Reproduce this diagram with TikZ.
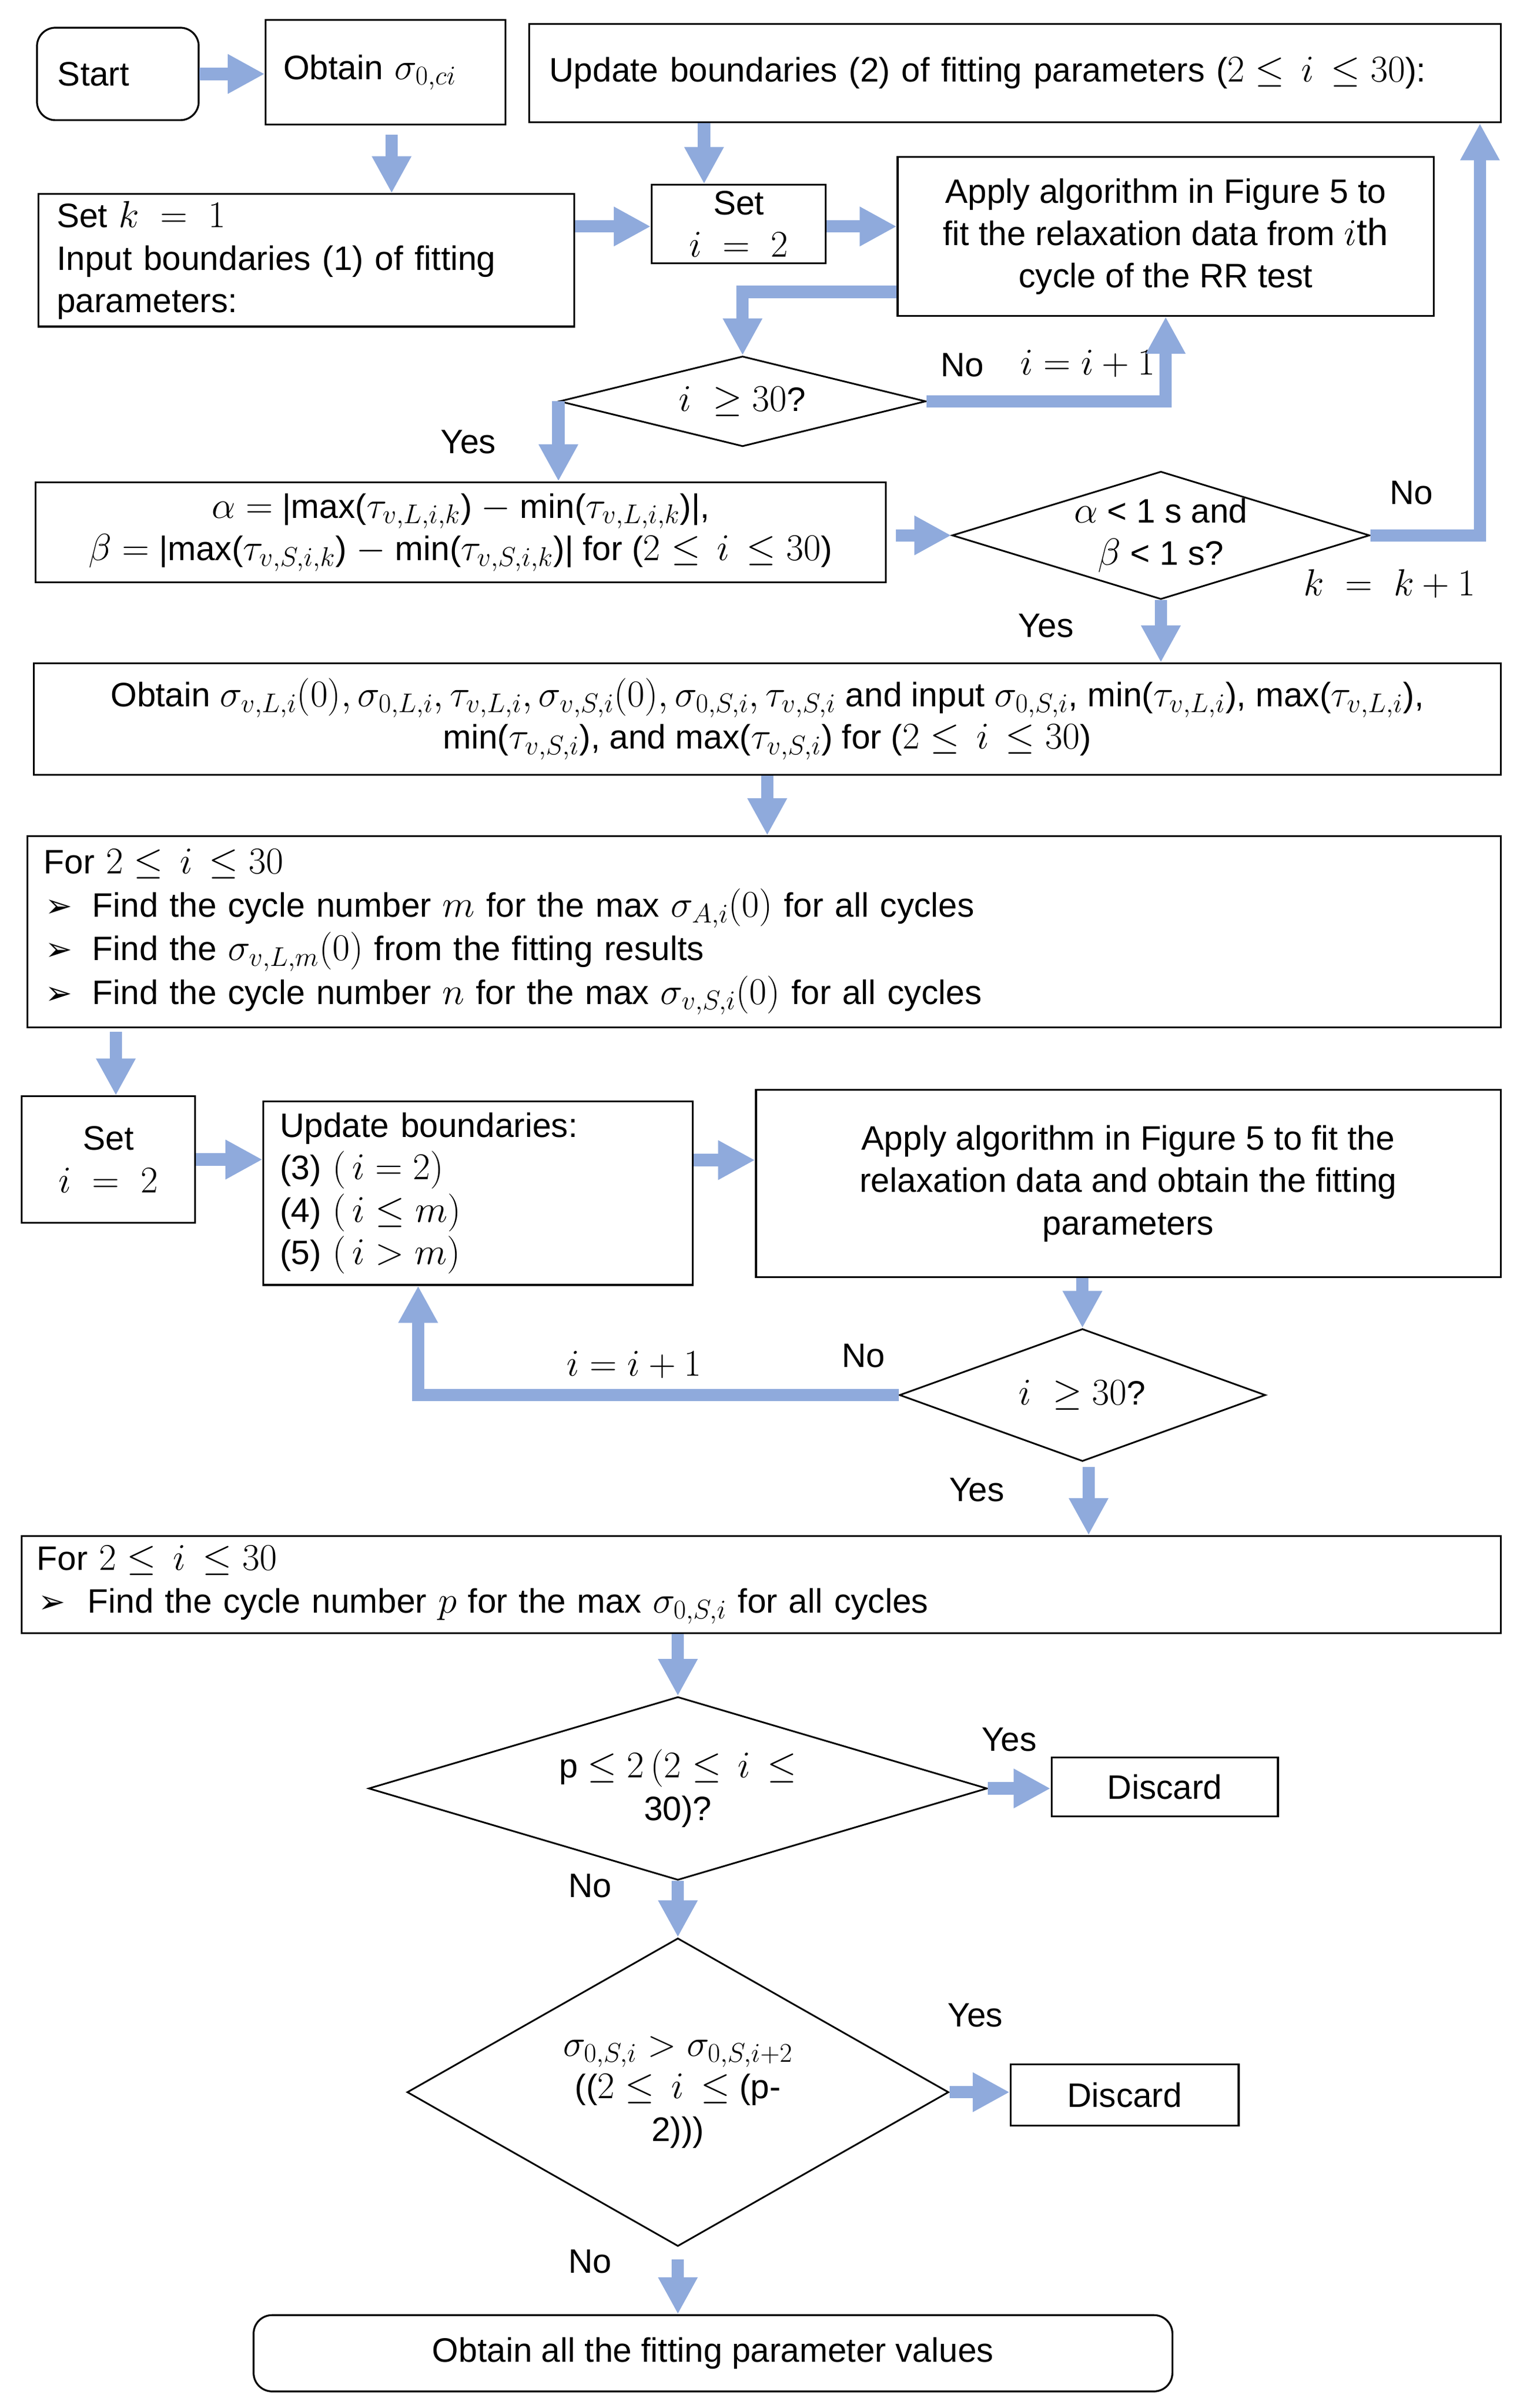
\RequirePackage{fix-cm}
\documentclass[tikz,border=0pt]{standalone}
\usepackage{fontspec}
\setmainfont{Liberation Sans}
\newfontfamily\djv{DejaVu Sans}
\usetikzlibrary{arrows.meta,shapes.geometric,calc}
\DeclareMathSizes{22}{24.5}{17.5}{13}
\definecolor{arrblue}{RGB}{143,170,220}
\newcommand{\bul}[1]{\makebox[#1][l]{\hspace{1pt}{\djv\fontsize{21}{21}\selectfont ➢}}}
\tikzset{
  txt/.style={font=\fontsize{22}{27.5}\selectfont},
  box/.style={txt, draw, line width=1.2pt, rectangle, inner sep=0pt},
  rbox/.style={box, rounded corners=12pt},
  dia/.style={draw, diamond, line width=1.1pt, inner sep=0pt},
  lbl/.style={txt, inner sep=0pt},
  arr/.style={draw=arrblue, line width=8pt, -{Triangle[length=24pt,width=24pt]}},
}
\begin{document}
\begin{tikzpicture}[x=1pt,y=-1pt]
\useasboundingbox (0,0) rectangle (993,1563);

% ---- nodes ----
\node[rbox, minimum width=105, minimum height=60, text width=78, align=left] (start) at (76.5,48) {Start};
\node[box, minimum width=155.5, minimum height=68, text width=132.5, align=left] (obt0) at (250.2,47) {Obtain $\sigma_{0,ci}$};
\node[box, minimum width=630.4, minimum height=64, text width=604.4, align=left] (upd2) at (658.8,47.5) {Update boundaries (2) of fitting parameters ($2\leq\, i\, \leq 30$):};
\node[box, minimum width=348, minimum height=86, text width=324, align=left] (setk) at (198.85,169) {Set $k\;=\;1$\\Input boundaries (1) of fitting\\parameters:};
\node[box, minimum width=113, minimum height=51, align=center] (seti) at (479.5,145.5) {Set\\$i\;=\;2$};
\node[box, minimum width=348, minimum height=103, align=center] (app1) at (756.65,153.5) {Apply algorithm in Figure 5 to\\fit the relaxation data from $i\mathrm{th}$\\cycle of the RR test};
\node[dia, minimum width=238, minimum height=58.6] (d1) at (482,260.5) {};
\node[lbl] (d1t) at (d1) {$i\;\geq 30$?};
\node[box, minimum width=552, minimum height=65, align=center] (alpha) at (299,345.5) {$\alpha =$ |max($\tau_{v,L,i,k}$) $-$ min($\tau_{v,L,i,k}$)|,\\$\beta =$ |max($\tau_{v,S,i,k}$) $-$ min($\tau_{v,S,i,k}$)| for ($2\leq\, i\,\leq 30$)};
\node[dia, minimum width=271, minimum height=83] (d2) at (753.5,347.5) {};
\node[lbl, align=center] (d2t) at (d2) {$\alpha$ < 1 s and\\$\beta$ < 1 s?};
\node[box, minimum width=952, minimum height=72.4, align=center] (obt) at (498,466.8) {Obtain $\sigma_{v,L,i}(0), \sigma_{0,L,i}, \tau_{v,L,i}, \sigma_{v,S,i}(0), \sigma_{0,S,i}, \tau_{v,S,i}$ and input $\sigma_{0,S,i}$, min($\tau_{v,L,i}$), max($\tau_{v,L,i}$),\\min($\tau_{v,S,i}$), and max($\tau_{v,S,i}$) for ($2\leq\, i\,\leq 30$)};
\node[box, font=\fontsize{22}{28.2}\selectfont, minimum width=956.2, minimum height=124.2, text width=935, align=left] (for1) at (495.9,604.9) {For $2\leq\, i\,\leq 30$\\\bul{31.5pt}Find the cycle number $m$ for the max $\sigma_{A,i}(0)$ for all cycles\\\bul{31.5pt}Find the $\sigma_{v,L,m}(0)$ from the fitting results\\\bul{31.5pt}Find the cycle number $n$ for the max $\sigma_{v,S,i}(0)$ for all cycles};
\node[box, minimum width=112.7, minimum height=82, align=center] (seti2) at (70.35,752.65) {Set\\$i\;=\;2$};
\node[box, minimum width=278.5, minimum height=119, text width=257, align=left] (updb) at (310.25,774.5) {Update boundaries:\\(3) $(\,i=2)$\\(4) $(\,i\leq m)$\\(5) $(\,i>m)$};
\node[box, minimum width=483.3, minimum height=121.6, align=center] (app2) at (732.35,768.2) {Apply algorithm in Figure 5 to fit the\\relaxation data and obtain the fitting\\parameters};
\node[dia, minimum width=237.6, minimum height=86] (d3) at (702.6,905.5) {};
\node[lbl] (d3t) at (d3) {$i\;\geq 30$?};
\node[box, font=\fontsize{22}{27.8}\selectfont, minimum width=960, minimum height=63, text width=940, align=left] (for2) at (494,1028.5) {For $2\leq\, i\,\leq 30$\\\bul{33pt}Find the cycle number $p$ for the max $\sigma_{0,S,i}$ for all cycles};
\node[dia, minimum width=401.5, minimum height=119] (d4) at (440,1160.85) {};
\node[lbl, align=center] (d4t) at (d4) {p $\leq 2\,(2\leq\, i\,\leq$\\30)?};
\node[box, minimum width=147, minimum height=38.3] (disc1) at (756,1159.85) {Discard};
\node[dia, minimum width=351.5, minimum height=200] (d5) at (440,1358) {};
\node[lbl, align=center] (d5t) at (d5) {$\sigma_{0,S,i} > \sigma_{0,S,i+2}$\\(($2\leq\, i\,\leq$ (p-\\2)))};
\node[box, minimum width=148, minimum height=39.7] (disc2) at (730,1359.85) {Discard};
\node[rbox, minimum width=596.4, minimum height=49.5] (fin) at (462.8,1527.45) {Obtain all the fitting parameter values};

% ---- labels ----
\node[lbl] (lno1) at (624.5,237) {No};
\node[lbl] (linc1) at (706,236) {$i=i+1$};
\node[lbl] (lyes1) at (304,287) {Yes};
\node[lbl] (lno2) at (916,320) {No};
\node[lbl] (lk) at (902,379) {$k\;=\;k+1$};
\node[lbl] (lyes2) at (679,406) {Yes};
\node[lbl] (linc2) at (411.6,886) {$i=i+1$};
\node[lbl] (lno3) at (560.4,880) {No};
\node[lbl] (lyes3) at (634,967) {Yes};
\node[lbl] (lyes4) at (655,1129) {Yes};
\node[lbl] (lno4) at (383,1224) {No};
\node[lbl] (lyes5) at (633,1308) {Yes};
\node[lbl] (lno5) at (383,1468) {No};

% ---- helper coordinates ----
\coordinate (c2) at ($(obt0.south)+(4,6)$);
\coordinate (c3) at ($(upd2.south west)+(114,0)$);
\coordinate (c4) at ($(setk.east)+(0,-22)$);
\coordinate (c5) at ($(seti.east)+(0,1.5)$);
\coordinate (c6) at ($(app1.west)+(0,36)$);
\coordinate (c9) at ($(alpha.east |- d2.west)+(6,0)$);
\coordinate (c10) at ($(upd2.south east)+(-14,0)$);
\coordinate (c13) at ($(for1.south west)+(58,2)$);
\coordinate (c15) at ($(updb.east)+(0,-21.5)$);
\coordinate (c17) at ($(updb.south west)+(101,0)$);
\coordinate (c18) at ($(d3.south)+(4,3)$);
\coordinate (c23) at ($(d5.south)+(0,8)$);

% ---- connectors ----
\draw[arr] (start.east) -- (start.east -| obt0.west);
\draw[arr] (c2) -- (c2 |- setk.north);
\draw[arr] (c3) -- (c3 |- seti.north);
\draw[arr] (c4) -- (c4 -| seti.west);
\draw[arr] (c5) -- (c5 -| app1.west);
\draw[arr] (c6) -| (d1.north);
\draw[arr] (d1.east) -| (app1.south);
\draw[arr] (d1.west) -- (d1.west |- alpha.north);
\draw[arr] (c9) -- (d2.west);
\draw[arr] (d2.east) -| (c10);
\draw[arr] (d2.south) -- (d2.south |- obt.north);
\draw[arr] (obt.south) -- (obt.south |- for1.north);
\draw[arr] (c13) -- (c13 |- seti2.north);
\draw[arr] (seti2.east) -- (seti2.east -| updb.west);
\draw[arr] (c15) -- (c15 -| app2.west);
\draw[arr] (d3.north |- app2.south) -- (d3.north);
\draw[arr] (d3.west) -| (c17);
\draw[arr] (c18) -- (c18 |- for2.north);
\draw[arr] (d4.north |- for2.south) -- (d4.north);
\draw[arr] (d4.east) -- (d4.east -| disc1.west);
\draw[arr] (d4.south) -- (d5.north);
\draw[arr] (d5.east) -- (d5.east -| disc2.west);
\draw[arr] (c23) -- (c23 |- fin.north);
\end{tikzpicture}
\end{document}
